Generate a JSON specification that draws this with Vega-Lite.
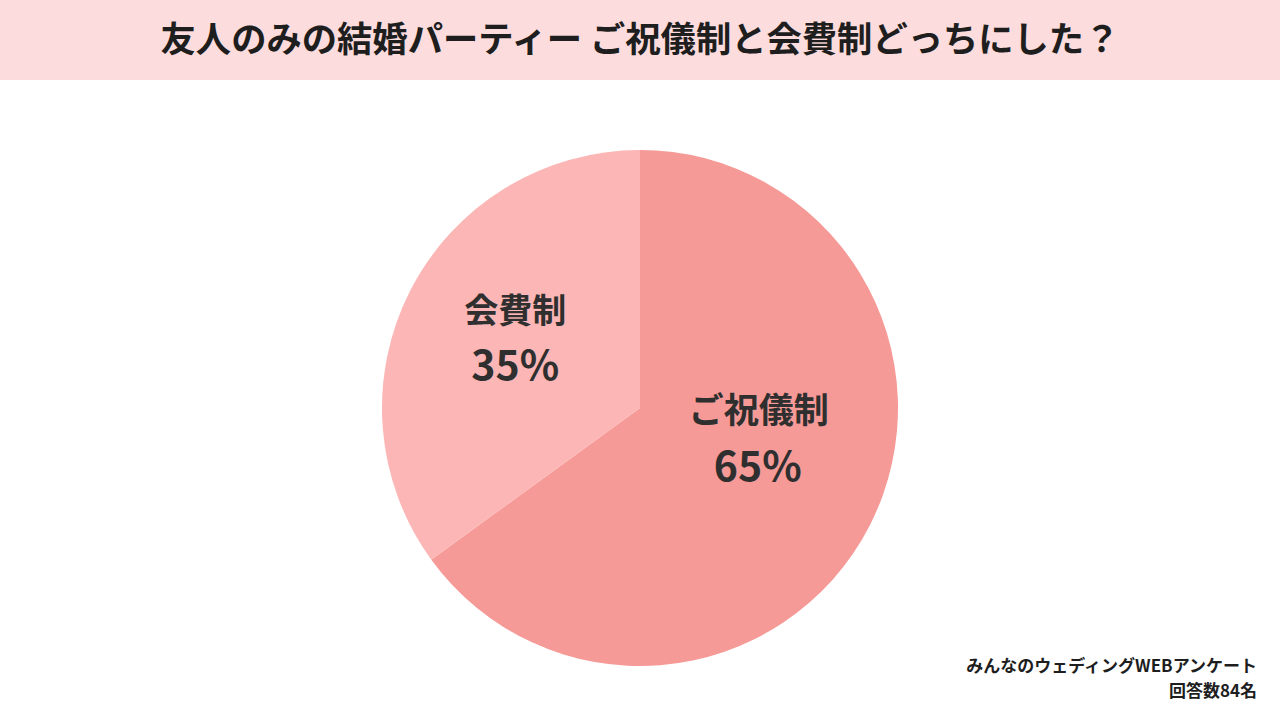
{
  "$schema": "https://vega.github.io/schema/vega-lite/v6.json",
  "background": "#ffffff",
  "padding": 0,
  "spacing": 0,
  "config": {
    "view": {"stroke": null},
    "font": "Noto Sans CJK JP",
    "concat": {"spacing": 0}
  },
  "datasets": {
    "answers": [
      {"label": "ご祝儀制", "share": 65, "pct": "65%"},
      {"label": "会費制", "share": 35, "pct": "35%"}
    ],
    "heading": [
      {"text": "友人のみの結婚パーティー ご祝儀制と会費制どっちにした？"}
    ]
  },
  "vconcat": [
    {
      "width": 1280,
      "height": 80,
      "view": {"fill": "#FCDCDC", "stroke": null},
      "data": {"name": "heading"},
      "mark": {
        "type": "text",
        "font": "Noto Sans CJK JP",
        "fontSize": 35.3,
        "fontWeight": "bold",
        "color": "#1e1e1e",
        "baseline": "middle",
        "align": "center",
        "dy": 1
      },
      "encoding": {"text": {"field": "text", "type": "nominal"}}
    },
    {
      "width": 1280,
      "height": 656,
      "data": {"name": "answers"},
      "title": {
        "text": ["みんなのウェディングWEBアンケート", "回答数84名"],
        "orient": "bottom",
        "anchor": "end",
        "align": "right",
        "frame": "group",
        "dx": -23,
        "offset": -77,
        "font": "Noto Sans CJK JP",
        "fontSize": 17,
        "fontWeight": "bold",
        "lineHeight": 25,
        "color": "#1e1e1e"
      },
      "encoding": {
        "theta": {"field": "share", "type": "quantitative", "stack": true},
        "order": {"field": "label", "type": "nominal", "sort": "ascending"}
      },
      "layer": [
        {
          "mark": {"type": "arc", "radius": 258},
          "encoding": {
            "color": {
              "field": "label",
              "type": "nominal",
              "sort": ["ご祝儀制", "会費制"],
              "scale": {"domain": ["ご祝儀制", "会費制"], "range": ["#F69A97", "#FBB6B5"]},
              "legend": null
            }
          }
        },
        {
          "mark": {"type": "text", "radius": 140, "fontSize": 35, "fontWeight": "bold", "fill": "#2f2f2f", "baseline": "middle", "dx": -6, "dy": -60},
          "encoding": {
            "text": {"condition": {"test": "datum.label === 'ご祝儀制'", "field": "label"}, "value": ""}
          }
        },
        {
          "mark": {"type": "text", "radius": 140, "fontSize": 41, "fontWeight": "bold", "fill": "#2f2f2f", "baseline": "middle", "dx": -7, "dy": -3},
          "encoding": {
            "text": {"condition": {"test": "datum.label === 'ご祝儀制'", "field": "pct"}, "value": ""}
          }
        },
        {
          "mark": {"type": "text", "radius": 140, "fontSize": 34, "fontWeight": "bold", "fill": "#2f2f2f", "baseline": "middle", "dx": 0, "dy": -31},
          "encoding": {
            "text": {"condition": {"test": "datum.label === '会費制'", "field": "label"}, "value": ""}
          }
        },
        {
          "mark": {"type": "text", "radius": 140, "fontSize": 41, "fontWeight": "bold", "fill": "#2f2f2f", "baseline": "middle", "dx": 0, "dy": 24},
          "encoding": {
            "text": {"condition": {"test": "datum.label === '会費制'", "field": "pct"}, "value": ""}
          }
        }
      ]
    }
  ]
}
